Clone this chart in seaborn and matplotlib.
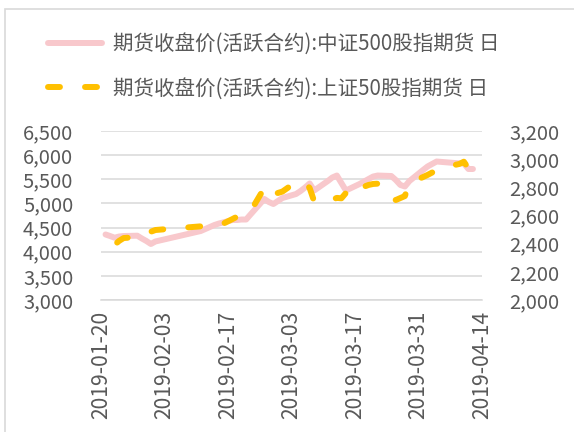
import pandas as pd
import seaborn as sns
import matplotlib.pyplot as plt
from matplotlib.lines import Line2D
from matplotlib.patches import Rectangle
import matplotlib.ticker as mticker

# data (daily trading days, Spring Festival and Qingming skipped)
dates = [
    "2019-01-21", "2019-01-22", "2019-01-23", "2019-01-24", "2019-01-25",
    "2019-01-28", "2019-01-29", "2019-01-30", "2019-01-31", "2019-02-01",
    "2019-02-11", "2019-02-12", "2019-02-13", "2019-02-14", "2019-02-15",
    "2019-02-18", "2019-02-19", "2019-02-20", "2019-02-21", "2019-02-22",
    "2019-02-25", "2019-02-26", "2019-02-27", "2019-02-28", "2019-03-01",
    "2019-03-04", "2019-03-05", "2019-03-06", "2019-03-07", "2019-03-08",
    "2019-03-11", "2019-03-12", "2019-03-13", "2019-03-14", "2019-03-15",
    "2019-03-18", "2019-03-19", "2019-03-20", "2019-03-21", "2019-03-22",
    "2019-03-25", "2019-03-26", "2019-03-27", "2019-03-28", "2019-03-29",
    "2019-04-01", "2019-04-02", "2019-04-03", "2019-04-04",
    "2019-04-08", "2019-04-09", "2019-04-10", "2019-04-11", "2019-04-12",
]

# 中证500股指期货 (left axis)
ic_close = [
    4357, 4325, 4290, 4315, 4325,
    4332, 4274, 4222, 4160, 4212,
    4429, 4470, 4512, 4553, 4584,
    4657, 4657, 4667, 4667, 4775,
    5092, 5030, 4988, 5050, 5112,
    5195, 5257, 5330, 5413, 5268,
    5464, 5537, 5578, 5423, 5268,
    5402, 5454, 5506, 5557, 5578,
    5568, 5485, 5382, 5351, 5464,
    5692, 5765, 5817, 5868,
    5837, 5831, 5827, 5713, 5713,
]

# 上证50股指期货 (right axis)
ih_close = [
    2430, 2405, 2392, 2420, 2440,
    2447, 2455, 2468, 2485, 2497,
    2523, 2525, 2525, 2525, 2527,
    2575, 2592, 2600, 2608, 2632,
    2795, 2740, 2753, 2760, 2770,
    2838, 2838, 2836, 2795, 2700,
    2706, 2713, 2725, 2722, 2760,
    2831, 2805, 2817, 2824, 2826,
    2724, 2710, 2724, 2738, 2831,
    2873, 2888, 2905, 2923,
    2959, 2966, 2982, 2935, 2940,
]

series_labels = [
    "期货收盘价(活跃合约):中证500股指期货 日",
    "期货收盘价(活跃合约):上证50股指期货 日",
]
xtick_labels = ["2019-01-20", "2019-02-03", "2019-02-17", "2019-03-03",
                "2019-03-17", "2019-03-31", "2019-04-14"]
left_ticks = [3000, 3500, 4000, 4500, 5000, 5500, 6000, 6500]
right_ticks = [2000, 2200, 2400, 2600, 2800, 3000, 3200]

pink = "#F8C8CC"
gold = "#FFC000"
text_grey = "#595959"
line_grey = "#D9D9D9"

sns.set_style("white")
plt.rcParams['font.family'] = ['Noto Sans CJK SC', 'DejaVu Sans']

df = pd.DataFrame({"date": pd.to_datetime(dates), "ic": ic_close, "ih": ih_close})

fig = plt.figure(figsize=(5.74, 4.32), dpi=100)
ax = fig.add_axes([101 / 574, 132 / 432, 381 / 574, 169 / 432])
ax2 = ax.twinx()

lw = 4.3
sns.lineplot(data=df, x="date", y="ic", ax=ax, color=pink, lw=lw,
             solid_capstyle="round", solid_joinstyle="round")
sns.lineplot(data=df, x="date", y="ih", ax=ax2, color=gold, lw=lw,
             linestyle=(3.85, (2.0, 4.2)), dash_capstyle="round",
             dash_joinstyle="round")

# axes
ax.set_xlim(pd.Timestamp(xtick_labels[0]), pd.Timestamp(xtick_labels[-1]))
ax.set_xticks(pd.to_datetime(xtick_labels))
ax.set_xticklabels(xtick_labels, rotation=90)
ax.set_ylim(3000, 6500)
ax.set_yticks(left_ticks)
ax2.set_ylim(2000, 3200)
ax2.set_yticks(right_ticks)

fmt = mticker.FuncFormatter(lambda v, p: f"{v:,.0f}")
ax.yaxis.set_major_formatter(fmt)
ax2.yaxis.set_major_formatter(fmt)

ax.set_xlabel("")
ax.set_ylabel("")
ax2.set_ylabel("")

ax.grid(axis="y", color=line_grey, lw=1.1)
ax.grid(axis="x", visible=False)
ax.set_axisbelow(True)

for a in (ax, ax2):
    for s in a.spines.values():
        s.set_visible(False)
ax.spines["bottom"].set_visible(True)
ax.spines["bottom"].set_color(line_grey)
ax.spines["bottom"].set_linewidth(1.1)

ax.tick_params(axis="y", length=0, pad=20, labelsize=14.5, labelcolor=text_grey)
ax2.tick_params(axis="y", length=0, pad=19.5, labelsize=14.5, labelcolor=text_grey)
ax.tick_params(axis="x", length=3.6, width=1.1, color=line_grey, pad=4,
               labelsize=15.2, labelcolor=text_grey)

# legend on top
handles = [
    Line2D([], [], color=pink, lw=lw, solid_capstyle="round"),
    Line2D([], [], color=gold, lw=lw, linestyle=(0, (2.0, 4.2)), dash_capstyle="round"),
]
fig.legend(handles, series_labels, loc="upper left",
           bbox_to_anchor=(48 / 574, 1 - 33 / 432), frameon=False,
           fontsize=14.8, handlelength=2.65, handletextpad=0.5,
           labelspacing=1.1, borderpad=0, borderaxespad=0,
           labelcolor=text_grey)

# chart border
fig.add_artist(Rectangle((5 / 574, -0.05), 1.0, 1 - 9 / 432 + 0.05,
                         transform=fig.transFigure, fill=False,
                         edgecolor=line_grey, lw=1.2))

fig.savefig("out.png", dpi=100)
